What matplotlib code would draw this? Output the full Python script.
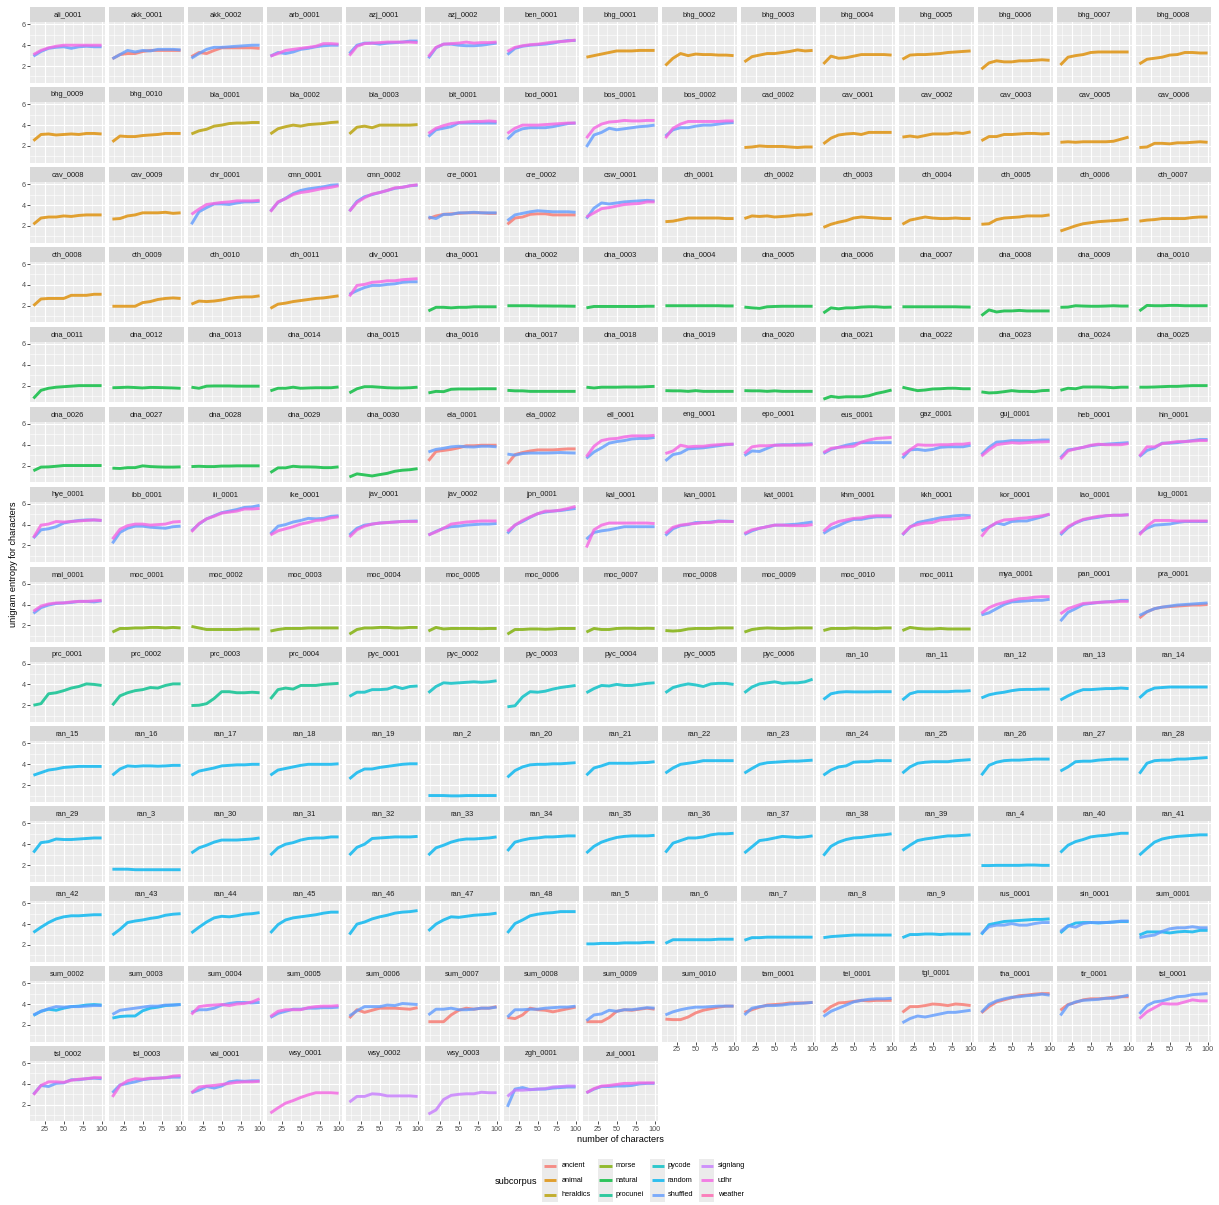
import numpy as np
import matplotlib.pyplot as plt
from matplotlib.patches import Rectangle

# number of characters sampled along each curve
n_chars = [10, 20, 30, 40, 50, 60, 70, 80, 90, 100]

levels = ["ancient", "animal", "heraldics", "morse", "natural", "procunei",
          "pycode", "random", "shuffled", "signlang", "udhr", "weather"]
level_colors = ["#F8766D", "#DE8C00", "#B79F00", "#7CAE00", "#00BA38", "#00C08B",
                "#00BFC4", "#00B4F0", "#619CFF", "#C77CFF", "#F564E3", "#FF64B0"]

panels = [
    "ali_0001", "akk_0001", "akk_0002", "arb_0001", "azj_0001", "azj_0002", "ben_0001", "bhg_0001",
    "bhg_0002", "bhg_0003", "bhg_0004", "bhg_0005", "bhg_0006", "bhg_0007", "bhg_0008",
    "bhg_0009", "bhg_0010", "bla_0001", "bla_0002", "bla_0003", "blt_0001", "bod_0001", "bos_0001",
    "bos_0002", "cad_0002", "cav_0001", "cav_0002", "cav_0003", "cav_0005", "cav_0006",
    "cav_0008", "cav_0009", "chr_0001", "cmn_0001", "cmn_0002", "cre_0001", "cre_0002", "csw_0001",
    "cth_0001", "cth_0002", "cth_0003", "cth_0004", "cth_0005", "cth_0006", "cth_0007",
    "cth_0008", "cth_0009", "cth_0010", "cth_0011", "div_0001", "dna_0001", "dna_0002", "dna_0003",
    "dna_0004", "dna_0005", "dna_0006", "dna_0007", "dna_0008", "dna_0009", "dna_0010",
    "dna_0011", "dna_0012", "dna_0013", "dna_0014", "dna_0015", "dna_0016", "dna_0017", "dna_0018",
    "dna_0019", "dna_0020", "dna_0021", "dna_0022", "dna_0023", "dna_0024", "dna_0025",
    "dna_0026", "dna_0027", "dna_0028", "dna_0029", "dna_0030", "ela_0001", "ela_0002", "ell_0001",
    "eng_0001", "epo_0001", "eus_0001", "gaz_0001", "guj_0001", "heb_0001", "hin_0001",
    "hye_0001", "ibb_0001", "iii_0001", "ike_0001", "jav_0001", "jav_0002", "jpn_0001", "kal_0001",
    "kan_0001", "kat_0001", "khm_0001", "kkh_0001", "kor_0001", "lao_0001", "lug_0001",
    "mal_0001", "moc_0001", "moc_0002", "moc_0003", "moc_0004", "moc_0005", "moc_0006", "moc_0007",
    "moc_0008", "moc_0009", "moc_0010", "moc_0011", "mya_0001", "pan_0001", "pra_0001",
    "prc_0001", "prc_0002", "prc_0003", "prc_0004", "pyc_0001", "pyc_0002", "pyc_0003", "pyc_0004",
    "pyc_0005", "pyc_0006", "ran_10", "ran_11", "ran_12", "ran_13", "ran_14",
    "ran_15", "ran_16", "ran_17", "ran_18", "ran_19", "ran_2", "ran_20", "ran_21",
    "ran_22", "ran_23", "ran_24", "ran_25", "ran_26", "ran_27", "ran_28",
    "ran_29", "ran_3", "ran_30", "ran_31", "ran_32", "ran_33", "ran_34", "ran_35",
    "ran_36", "ran_37", "ran_38", "ran_39", "ran_4", "ran_40", "ran_41",
    "ran_42", "ran_43", "ran_44", "ran_45", "ran_46", "ran_47", "ran_48", "ran_5",
    "ran_6", "ran_7", "ran_8", "ran_9", "rus_0001", "sin_0001", "sum_0001",
    "sum_0002", "sum_0003", "sum_0004", "sum_0005", "sum_0006", "sum_0007", "sum_0008", "sum_0009",
    "sum_0010", "tam_0001", "tel_0001", "tgl_0001", "tha_0001", "tir_0001", "tsl_0001",
    "tsl_0002", "tsl_0003", "vai_0001", "wsy_0001", "wsy_0002", "wsy_0003", "zgh_0001", "zul_0001",
]

subcorpus = (
    ["udhr", "ancient", "ancient", "udhr", "udhr", "udhr", "udhr"] + ["animal"] * 10
    + ["heraldics"] * 3 + ["udhr"] * 4 + ["animal"] * 8
    + ["udhr"] * 3 + ["ancient"] * 2 + ["udhr"] + ["animal"] * 11
    + ["udhr"] + ["natural"] * 30
    + ["ancient"] * 2 + ["udhr"] * 8
    + ["udhr"] * 15
    + ["udhr"] + ["morse"] * 11 + ["udhr", "udhr", "ancient"]
    + ["procunei"] * 4 + ["pycode"] * 6 + ["random"] * 52
    + ["udhr", "udhr"] + ["ancient"] * 10 + ["udhr"] * 5
    + ["signlang"] * 3 + ["udhr"] + ["weather"] * 3 + ["udhr", "udhr"]
)

# unigram entropy of the panel's own subcorpus curve
entropy = [
    # row 1
    [3.1, 3.5, 3.75, 3.9, 4.0, 4.0, 4.0, 4.0, 4.0, 4.0],
    [2.7, 3.1, 3.2, 3.2, 3.4, 3.5, 3.5, 3.5, 3.5, 3.5],
    [2.9, 3.3, 3.2, 3.5, 3.75, 3.75, 3.75, 3.75, 3.75, 3.7],
    [2.95, 3.2, 3.5, 3.6, 3.7, 3.8, 3.9, 4.15, 4.15, 4.1],
    [3.0, 3.9, 4.15, 4.2, 4.25, 4.3, 4.3, 4.3, 4.3, 4.25],
    [2.9, 3.8, 4.1, 4.15, 4.2, 4.3, 4.2, 4.25, 4.25, 4.3],
    [3.4, 3.8, 3.95, 4.05, 4.1, 4.2, 4.3, 4.35, 4.4, 4.5],
    [2.85, 3.0, 3.15, 3.3, 3.45, 3.45, 3.45, 3.5, 3.5, 3.5],
    [2.05, 2.75, 3.2, 3.0, 3.15, 3.1, 3.1, 3.05, 3.05, 3.0],
    [2.4, 2.9, 3.05, 3.2, 3.2, 3.3, 3.4, 3.55, 3.45, 3.5],
    [2.2, 2.95, 2.75, 2.8, 2.95, 3.1, 3.1, 3.1, 3.1, 3.05],
    [2.65, 3.05, 3.1, 3.1, 3.15, 3.2, 3.3, 3.35, 3.4, 3.45],
    [1.7, 2.3, 2.5, 2.4, 2.4, 2.5, 2.5, 2.55, 2.6, 2.55],
    [2.1, 2.85, 3.0, 3.1, 3.3, 3.35, 3.35, 3.35, 3.35, 3.35],
    [2.2, 2.65, 2.75, 2.85, 3.05, 3.1, 3.3, 3.3, 3.25, 3.25],
    # row 2
    [2.5, 3.1, 3.15, 3.05, 3.1, 3.15, 3.1, 3.2, 3.2, 3.15],
    [2.4, 2.95, 2.9, 2.9, 3.0, 3.05, 3.1, 3.2, 3.2, 3.2],
    [3.15, 3.45, 3.6, 3.9, 4.0, 4.15, 4.2, 4.2, 4.25, 4.25],
    [3.15, 3.65, 3.85, 4.0, 3.9, 4.05, 4.1, 4.15, 4.25, 4.3],
    [3.15, 3.8, 3.9, 3.75, 4.0, 4.0, 4.0, 4.0, 4.0, 4.05],
    [3.2, 3.7, 3.95, 4.15, 4.25, 4.3, 4.35, 4.35, 4.4, 4.35],
    [3.2, 3.7, 4.0, 4.0, 4.0, 4.05, 4.1, 4.15, 4.2, 4.2],
    [2.75, 3.7, 4.1, 4.3, 4.35, 4.45, 4.4, 4.4, 4.45, 4.45],
    [2.75, 3.7, 4.1, 4.35, 4.35, 4.35, 4.35, 4.35, 4.4, 4.4],
    [1.85, 1.9, 2.0, 1.95, 1.95, 1.95, 1.9, 1.85, 1.9, 1.9],
    [2.2, 2.75, 3.05, 3.15, 3.2, 3.1, 3.3, 3.3, 3.3, 3.3],
    [2.85, 2.95, 2.85, 3.0, 3.15, 3.15, 3.15, 3.25, 3.2, 3.35],
    [2.5, 2.9, 2.9, 3.1, 3.1, 3.15, 3.2, 3.2, 3.15, 3.2],
    [2.35, 2.4, 2.35, 2.4, 2.4, 2.4, 2.4, 2.45, 2.65, 2.85],
    [1.85, 1.9, 2.25, 2.25, 2.2, 2.3, 2.3, 2.35, 2.4, 2.35],
    # row 3
    [2.15, 2.75, 2.85, 2.85, 2.95, 2.9, 3.0, 3.05, 3.05, 3.05],
    [2.65, 2.7, 2.95, 3.05, 3.25, 3.25, 3.25, 3.3, 3.2, 3.25],
    [3.1, 3.6, 4.05, 4.15, 4.25, 4.3, 4.4, 4.4, 4.4, 4.45],
    [3.35, 4.3, 4.6, 5.0, 5.2, 5.3, 5.45, 5.6, 5.7, 5.85],
    [3.4, 4.25, 4.7, 5.05, 5.2, 5.4, 5.65, 5.7, 5.85, 5.95],
    [2.7, 2.95, 3.1, 3.15, 3.2, 3.25, 3.25, 3.25, 3.2, 3.2],
    [2.15, 2.75, 2.85, 3.1, 3.15, 3.15, 3.05, 3.05, 3.05, 3.05],
    [2.85, 3.25, 3.65, 3.75, 3.9, 4.05, 4.1, 4.15, 4.3, 4.3],
    [2.4, 2.45, 2.6, 2.75, 2.75, 2.75, 2.75, 2.75, 2.7, 2.7],
    [2.7, 2.95, 2.9, 2.95, 2.85, 2.9, 2.95, 3.05, 3.05, 3.15],
    [1.85, 2.15, 2.35, 2.5, 2.75, 2.85, 2.8, 2.75, 2.7, 2.7],
    [2.15, 2.55, 2.7, 2.85, 2.75, 2.7, 2.7, 2.75, 2.7, 2.7],
    [2.15, 2.2, 2.6, 2.75, 2.8, 2.85, 2.95, 2.95, 2.95, 3.05],
    [1.5, 1.75, 2.0, 2.2, 2.3, 2.4, 2.45, 2.5, 2.55, 2.65],
    [2.45, 2.55, 2.6, 2.7, 2.7, 2.7, 2.7, 2.8, 2.85, 2.85],
    # row 4
    [2.0, 2.65, 2.7, 2.7, 2.7, 3.0, 3.0, 3.0, 3.1, 3.1],
    [1.95, 1.95, 1.95, 1.95, 2.3, 2.4, 2.6, 2.7, 2.75, 2.7],
    [2.15, 2.45, 2.4, 2.45, 2.55, 2.7, 2.8, 2.85, 2.85, 2.95],
    [1.75, 2.15, 2.25, 2.4, 2.5, 2.6, 2.7, 2.75, 2.85, 2.95],
    [2.9, 3.95, 4.05, 4.25, 4.3, 4.4, 4.4, 4.5, 4.55, 4.6],
    [1.5, 1.85, 1.85, 1.8, 1.85, 1.85, 1.9, 1.9, 1.9, 1.9],
    [2.0, 2.0, 2.0, 2.0, 1.98, 1.98, 1.97, 1.97, 1.96, 1.95],
    [1.8, 1.93, 1.93, 1.93, 1.93, 1.93, 1.93, 1.93, 1.95, 1.95],
    [2.0, 2.0, 2.0, 2.0, 2.0, 2.0, 2.0, 2.0, 1.98, 1.98],
    [1.87, 1.8, 1.75, 1.9, 1.93, 1.95, 1.95, 1.95, 1.95, 1.95],
    [1.3, 1.8, 1.7, 1.8, 1.8, 1.87, 1.9, 1.9, 1.85, 1.87],
    [1.9, 1.9, 1.9, 1.9, 1.9, 1.9, 1.9, 1.9, 1.88, 1.87],
    [1.05, 1.6, 1.4, 1.5, 1.5, 1.55, 1.5, 1.5, 1.5, 1.5],
    [1.85, 1.87, 2.0, 1.97, 1.95, 1.95, 1.97, 2.0, 1.97, 1.97],
    [1.5, 2.03, 2.0, 2.0, 2.03, 2.03, 2.0, 2.0, 2.0, 2.0],
    # row 5
    [0.77, 1.55, 1.75, 1.85, 1.9, 1.95, 2.0, 2.0, 2.0, 2.0],
    [1.8, 1.82, 1.85, 1.82, 1.78, 1.83, 1.82, 1.8, 1.78, 1.75],
    [1.85, 1.75, 1.95, 1.97, 1.97, 1.97, 1.95, 1.95, 1.95, 1.95],
    [1.5, 1.75, 1.75, 1.85, 1.75, 1.78, 1.8, 1.8, 1.8, 1.87],
    [1.3, 1.7, 1.9, 1.9, 1.85, 1.8, 1.78, 1.78, 1.8, 1.85],
    [1.3, 1.45, 1.42, 1.65, 1.68, 1.68, 1.68, 1.7, 1.7, 1.7],
    [1.55, 1.5, 1.5, 1.45, 1.45, 1.45, 1.45, 1.45, 1.45, 1.45],
    [1.85, 1.78, 1.85, 1.85, 1.85, 1.87, 1.87, 1.87, 1.9, 1.93],
    [1.52, 1.5, 1.5, 1.45, 1.52, 1.45, 1.45, 1.45, 1.45, 1.45],
    [1.52, 1.5, 1.5, 1.45, 1.5, 1.45, 1.45, 1.45, 1.45, 1.45],
    [0.7, 0.97, 0.87, 0.93, 0.93, 0.93, 1.03, 1.25, 1.4, 1.58],
    [1.85, 1.68, 1.52, 1.58, 1.68, 1.7, 1.75, 1.75, 1.7, 1.7],
    [1.4, 1.3, 1.33, 1.42, 1.52, 1.45, 1.45, 1.42, 1.52, 1.55],
    [1.55, 1.75, 1.7, 1.87, 1.87, 1.87, 1.85, 1.8, 1.85, 1.85],
    [1.85, 1.85, 1.87, 1.9, 1.93, 1.93, 1.97, 2.0, 2.0, 2.0],
    # row 6
    [1.5, 1.85, 1.87, 1.93, 2.0, 2.0, 2.0, 2.0, 2.0, 2.0],
    [1.75, 1.72, 1.8, 1.8, 1.97, 1.9, 1.87, 1.85, 1.85, 1.87],
    [1.9, 1.93, 1.9, 1.9, 1.95, 1.95, 1.97, 1.97, 1.97, 1.97],
    [1.32, 1.78, 1.78, 1.93, 1.87, 1.87, 1.85, 1.8, 1.8, 1.87],
    [0.9, 1.2, 1.1, 1.0, 1.13, 1.25, 1.45, 1.55, 1.6, 1.7],
    [2.45, 3.35, 3.45, 3.55, 3.7, 3.9, 3.9, 3.95, 3.95, 3.95],
    [2.15, 3.05, 3.25, 3.4, 3.5, 3.5, 3.5, 3.55, 3.6, 3.6],
    [2.85, 3.85, 4.4, 4.55, 4.6, 4.75, 4.85, 4.85, 4.85, 4.9],
    [3.15, 3.4, 3.95, 3.8, 3.85, 3.85, 3.95, 4.0, 4.05, 4.05],
    [3.15, 3.8, 3.9, 3.9, 3.95, 3.95, 3.95, 3.95, 3.97, 4.0],
    [3.25, 3.65, 3.75, 3.8, 3.85, 4.25, 4.45, 4.6, 4.65, 4.7],
    [3.0, 3.5, 4.0, 3.95, 3.95, 4.0, 4.0, 4.05, 4.05, 4.15],
    [2.9, 3.5, 4.0, 4.1, 4.2, 4.15, 4.2, 4.25, 4.27, 4.3],
    [2.6, 3.4, 3.6, 3.75, 3.95, 4.05, 4.0, 4.0, 4.0, 4.1],
    [2.9, 3.8, 3.8, 4.1, 4.2, 4.3, 4.3, 4.35, 4.4, 4.4],
    # row 7
    [2.75, 3.95, 4.05, 4.3, 4.25, 4.3, 4.35, 4.4, 4.45, 4.4],
    [2.6, 3.55, 3.9, 4.05, 4.05, 3.95, 4.0, 4.05, 4.25, 4.3],
    [3.3, 4.1, 4.55, 4.8, 5.1, 5.2, 5.3, 5.5, 5.5, 5.55],
    [3.0, 3.4, 3.6, 3.8, 4.05, 4.2, 4.4, 4.45, 4.65, 4.75],
    [2.8, 3.5, 3.85, 4.05, 4.15, 4.2, 4.25, 4.3, 4.3, 4.3],
    [3.0, 3.3, 3.65, 4.05, 4.15, 4.25, 4.3, 4.35, 4.35, 4.35],
    [3.35, 3.95, 4.4, 4.75, 5.05, 5.3, 5.3, 5.4, 5.55, 5.75],
    [1.8, 3.5, 3.95, 4.15, 4.15, 4.15, 4.15, 4.15, 4.15, 4.1],
    [3.15, 3.75, 3.95, 4.05, 4.1, 4.2, 4.2, 4.3, 4.3, 4.3],
    [3.15, 3.5, 3.65, 3.8, 3.95, 3.95, 3.9, 3.9, 3.9, 4.0],
    [3.35, 4.0, 4.3, 4.45, 4.6, 4.65, 4.8, 4.85, 4.85, 4.85],
    [3.05, 3.8, 4.0, 4.15, 4.2, 4.45, 4.5, 4.55, 4.6, 4.7],
    [2.85, 3.75, 4.2, 4.45, 4.5, 4.6, 4.65, 4.75, 4.85, 5.0],
    [3.15, 3.8, 4.2, 4.5, 4.65, 4.8, 4.85, 4.9, 4.9, 4.95],
    [3.0, 3.85, 4.4, 4.4, 4.4, 4.35, 4.35, 4.35, 4.35, 4.35],
    # row 8
    [3.35, 3.85, 4.05, 4.15, 4.15, 4.25, 4.3, 4.3, 4.35, 4.4],
    [1.35, 1.7, 1.7, 1.75, 1.75, 1.8, 1.8, 1.75, 1.8, 1.75],
    [1.9, 1.75, 1.6, 1.6, 1.6, 1.6, 1.6, 1.65, 1.65, 1.65],
    [1.45, 1.6, 1.7, 1.7, 1.7, 1.75, 1.75, 1.75, 1.75, 1.75],
    [1.15, 1.6, 1.75, 1.75, 1.8, 1.8, 1.75, 1.75, 1.8, 1.8],
    [1.45, 1.8, 1.65, 1.7, 1.7, 1.7, 1.7, 1.68, 1.7, 1.7],
    [1.15, 1.6, 1.6, 1.65, 1.65, 1.62, 1.65, 1.7, 1.7, 1.7],
    [1.35, 1.7, 1.6, 1.6, 1.7, 1.72, 1.72, 1.7, 1.72, 1.7],
    [1.5, 1.45, 1.5, 1.65, 1.7, 1.7, 1.7, 1.75, 1.75, 1.75],
    [1.35, 1.6, 1.7, 1.75, 1.72, 1.7, 1.72, 1.75, 1.75, 1.75],
    [1.5, 1.7, 1.7, 1.7, 1.75, 1.72, 1.72, 1.7, 1.75, 1.75],
    [1.5, 1.8, 1.7, 1.65, 1.65, 1.7, 1.65, 1.65, 1.65, 1.65],
    [3.15, 3.7, 4.0, 4.2, 4.4, 4.55, 4.6, 4.7, 4.75, 4.75],
    [3.1, 3.6, 3.85, 4.1, 4.15, 4.2, 4.25, 4.25, 4.3, 4.3],
    [2.7, 3.3, 3.6, 3.75, 3.8, 3.85, 3.9, 3.95, 3.95, 4.0],
    # row 9
    [2.0, 2.15, 3.1, 3.2, 3.4, 3.65, 3.8, 4.05, 4.0, 3.9],
    [2.0, 2.9, 3.2, 3.4, 3.5, 3.7, 3.65, 3.9, 4.05, 4.05],
    [1.97, 2.0, 2.15, 2.65, 3.3, 3.3, 3.2, 3.2, 3.25, 3.2],
    [2.6, 3.5, 3.65, 3.55, 3.9, 3.9, 3.9, 4.0, 4.05, 4.1],
    [2.85, 3.25, 3.25, 3.5, 3.5, 3.55, 3.8, 3.6, 3.8, 3.85],
    [3.2, 3.8, 4.15, 4.1, 4.15, 4.2, 4.25, 4.2, 4.25, 4.35],
    [1.85, 1.95, 2.8, 3.3, 3.25, 3.35, 3.55, 3.7, 3.8, 3.9],
    [3.2, 3.6, 3.9, 3.85, 4.0, 3.9, 3.9, 4.0, 4.1, 4.15],
    [3.2, 3.7, 3.9, 4.05, 3.95, 3.8, 4.05, 4.1, 4.1, 4.0],
    [3.2, 3.75, 4.05, 4.15, 4.25, 4.1, 4.15, 4.15, 4.25, 4.5],
    [2.55, 3.1, 3.25, 3.3, 3.28, 3.28, 3.28, 3.3, 3.3, 3.3],
    [2.5, 3.1, 3.3, 3.3, 3.3, 3.3, 3.3, 3.35, 3.35, 3.4],
    [2.7, 3.0, 3.15, 3.25, 3.4, 3.5, 3.52, 3.52, 3.55, 3.55],
    [2.5, 2.9, 3.25, 3.5, 3.5, 3.55, 3.6, 3.6, 3.65, 3.6],
    [2.7, 3.35, 3.65, 3.7, 3.75, 3.75, 3.75, 3.75, 3.75, 3.75],
    # row 10
    [2.95, 3.2, 3.45, 3.55, 3.7, 3.75, 3.8, 3.8, 3.8, 3.8],
    [2.95, 3.55, 3.85, 3.8, 3.85, 3.85, 3.82, 3.85, 3.9, 3.9],
    [2.95, 3.35, 3.5, 3.65, 3.85, 3.9, 3.95, 3.95, 4.0, 4.0],
    [2.95, 3.45, 3.6, 3.75, 3.9, 4.0, 4.0, 4.0, 4.0, 4.05],
    [2.6, 3.2, 3.55, 3.55, 3.7, 3.8, 3.9, 4.0, 4.05, 4.05],
    [1.0, 1.0, 1.0, 0.97, 0.97, 1.0, 1.0, 1.0, 1.0, 1.0],
    [2.75, 3.4, 3.75, 3.95, 4.0, 4.0, 4.05, 4.05, 4.1, 4.15],
    [2.95, 3.65, 3.85, 4.1, 4.1, 4.1, 4.1, 4.15, 4.17, 4.25],
    [3.15, 3.65, 4.0, 4.1, 4.2, 4.35, 4.35, 4.35, 4.35, 4.35],
    [3.15, 3.6, 4.0, 4.15, 4.2, 4.25, 4.3, 4.3, 4.35, 4.4],
    [2.95, 3.45, 3.75, 3.85, 4.2, 4.25, 4.25, 4.35, 4.35, 4.35],
    [3.15, 3.75, 4.1, 4.2, 4.25, 4.25, 4.25, 4.35, 4.4, 4.45],
    [2.95, 3.9, 4.2, 4.35, 4.4, 4.4, 4.45, 4.5, 4.5, 4.5],
    [3.35, 3.75, 4.25, 4.3, 4.3, 4.4, 4.45, 4.5, 4.5, 4.5],
    [3.1, 4.1, 4.35, 4.4, 4.4, 4.5, 4.5, 4.55, 4.6, 4.65],
    # row 11
    [3.2, 4.15, 4.25, 4.5, 4.45, 4.45, 4.5, 4.55, 4.6, 4.6],
    [1.6, 1.6, 1.6, 1.55, 1.55, 1.55, 1.55, 1.55, 1.55, 1.55],
    [3.15, 3.65, 3.9, 4.2, 4.4, 4.4, 4.4, 4.45, 4.5, 4.6],
    [2.95, 3.65, 4.0, 4.15, 4.4, 4.55, 4.6, 4.6, 4.7, 4.7],
    [2.95, 3.7, 4.0, 4.55, 4.6, 4.65, 4.7, 4.7, 4.7, 4.75],
    [2.95, 3.65, 3.9, 4.2, 4.4, 4.5, 4.5, 4.55, 4.6, 4.7],
    [3.35, 4.2, 4.4, 4.55, 4.6, 4.7, 4.7, 4.75, 4.8, 4.8],
    [3.15, 3.8, 4.2, 4.45, 4.65, 4.75, 4.8, 4.8, 4.8, 4.85],
    [3.2, 4.1, 4.35, 4.6, 4.6, 4.7, 4.9, 5.0, 5.0, 5.05],
    [3.15, 3.75, 4.35, 4.45, 4.6, 4.75, 4.7, 4.65, 4.7, 4.8],
    [2.9, 3.8, 4.2, 4.45, 4.6, 4.65, 4.75, 4.85, 4.9, 5.0],
    [3.4, 3.9, 4.35, 4.5, 4.6, 4.7, 4.8, 4.8, 4.85, 4.9],
    [1.95, 1.95, 1.97, 1.97, 1.97, 1.97, 2.0, 2.0, 1.97, 1.97],
    [3.2, 3.9, 4.25, 4.45, 4.7, 4.8, 4.85, 4.95, 5.05, 5.05],
    [2.95, 3.6, 4.2, 4.5, 4.65, 4.75, 4.8, 4.85, 4.9, 4.9],
    # row 12
    [3.2, 3.7, 4.15, 4.5, 4.7, 4.8, 4.8, 4.85, 4.9, 4.9],
    [2.95, 3.5, 4.15, 4.3, 4.4, 4.55, 4.65, 4.85, 4.95, 5.0],
    [3.15, 3.7, 4.2, 4.6, 4.75, 4.7, 4.8, 4.95, 5.0, 5.1],
    [3.15, 3.95, 4.4, 4.6, 4.7, 4.8, 4.9, 5.05, 5.15, 5.15],
    [3.0, 4.0, 4.2, 4.5, 4.7, 4.85, 5.05, 5.15, 5.2, 5.3],
    [3.35, 4.0, 4.4, 4.7, 4.65, 4.75, 4.85, 4.9, 4.95, 5.05],
    [3.15, 4.05, 4.4, 4.8, 4.95, 5.05, 5.1, 5.2, 5.2, 5.2],
    [2.1, 2.1, 2.15, 2.15, 2.15, 2.2, 2.2, 2.2, 2.25, 2.25],
    [2.15, 2.5, 2.5, 2.5, 2.5, 2.5, 2.5, 2.55, 2.55, 2.55],
    [2.45, 2.7, 2.7, 2.75, 2.75, 2.75, 2.75, 2.75, 2.75, 2.75],
    [2.7, 2.8, 2.85, 2.9, 2.95, 2.95, 2.95, 2.95, 2.95, 2.95],
    [2.7, 3.0, 3.0, 3.05, 3.05, 3.0, 3.05, 3.05, 3.05, 3.05],
    [3.0, 3.95, 4.1, 4.25, 4.3, 4.35, 4.4, 4.45, 4.45, 4.5],
    [3.15, 3.8, 4.1, 4.15, 4.15, 4.1, 4.15, 4.2, 4.25, 4.25],
    [2.95, 3.25, 3.25, 3.25, 3.15, 3.25, 3.3, 3.25, 3.4, 3.4],
    # row 13
    [2.9, 3.3, 3.5, 3.4, 3.6, 3.75, 3.8, 3.9, 3.95, 3.9],
    [2.65, 2.8, 2.85, 2.85, 3.35, 3.6, 3.7, 3.85, 3.9, 3.95],
    [3.0, 3.75, 3.85, 3.9, 3.95, 3.85, 4.0, 4.05, 4.2, 4.5],
    [2.8, 3.3, 3.45, 3.45, 3.45, 3.65, 3.75, 3.8, 3.8, 3.85],
    [2.65, 3.45, 3.2, 3.4, 3.6, 3.6, 3.6, 3.55, 3.5, 3.65],
    [2.3, 2.3, 2.3, 2.95, 3.4, 3.6, 3.5, 3.6, 3.6, 3.75],
    [2.7, 2.6, 2.95, 3.6, 3.45, 3.4, 3.25, 3.4, 3.55, 3.7],
    [2.3, 2.3, 2.3, 2.7, 3.3, 3.45, 3.4, 3.5, 3.6, 3.5],
    [2.55, 2.5, 2.5, 2.75, 3.15, 3.4, 3.55, 3.7, 3.8, 3.8],
    [3.2, 3.45, 3.7, 3.9, 3.95, 4.0, 4.1, 4.1, 4.1, 4.15],
    [3.2, 3.75, 4.1, 4.15, 4.25, 4.35, 4.3, 4.35, 4.35, 4.35],
    [3.2, 3.75, 3.75, 3.85, 4.0, 3.95, 3.85, 4.0, 3.95, 3.85],
    [3.15, 3.75, 4.2, 4.4, 4.6, 4.8, 4.85, 4.95, 5.0, 5.0],
    [3.4, 3.95, 4.15, 4.4, 4.5, 4.5, 4.55, 4.65, 4.7, 4.7],
    [2.6, 3.25, 3.65, 4.05, 4.0, 4.0, 4.2, 4.4, 4.3, 4.3],
    # row 14
    [2.95, 3.85, 4.2, 4.2, 4.15, 4.35, 4.45, 4.5, 4.6, 4.6],
    [2.75, 3.85, 4.3, 4.5, 4.45, 4.55, 4.55, 4.6, 4.75, 4.8],
    [3.15, 3.7, 3.8, 3.85, 3.95, 4.05, 4.15, 4.2, 4.2, 4.25],
    [1.2, 1.7, 2.15, 2.4, 2.7, 2.95, 3.15, 3.15, 3.15, 3.1],
    [2.25, 2.8, 2.8, 3.05, 3.0, 2.85, 2.85, 2.85, 2.85, 2.8],
    [1.1, 1.5, 2.5, 2.9, 3.0, 3.05, 3.05, 3.2, 3.15, 3.15],
    [2.8, 3.4, 3.4, 3.45, 3.5, 3.55, 3.7, 3.75, 3.8, 3.8],
    [3.15, 3.55, 3.8, 3.85, 3.95, 4.05, 4.05, 4.1, 4.1, 4.1],
]

# shuffled baseline, only for natural-language / ancient / sign-language panels
shuffled = {
    "ali_0001": [2.95, 3.4, 3.7, 3.8, 3.85, 3.7, 3.85, 3.9, 3.85, 3.85],
    "akk_0001": [2.7, 3.1, 3.5, 3.35, 3.5, 3.45, 3.6, 3.6, 3.6, 3.55],
    "akk_0002": [2.75, 3.2, 3.6, 3.8, 3.8, 3.85, 3.9, 3.95, 4.0, 4.0],
    "arb_0001": [2.95, 3.3, 3.2, 3.35, 3.6, 3.7, 3.85, 3.95, 4.0, 4.0],
    "azj_0001": [3.2, 4.0, 4.2, 4.2, 4.1, 4.2, 4.25, 4.3, 4.4, 4.4],
    "azj_0002": [2.75, 3.75, 4.1, 4.1, 4.0, 3.95, 3.95, 4.0, 4.1, 4.2],
    "ben_0001": [3.1, 3.7, 3.9, 4.0, 4.05, 4.1, 4.2, 4.35, 4.45, 4.45],
    "blt_0001": [2.9, 3.55, 3.7, 3.85, 4.2, 4.2, 4.2, 4.2, 4.2, 4.2],
    "bod_0001": [2.65, 3.35, 3.65, 3.75, 3.75, 3.75, 3.85, 4.0, 4.15, 4.2],
    "bos_0001": [1.9, 3.05, 3.3, 3.7, 3.55, 3.65, 3.75, 3.85, 3.9, 4.0],
    "bos_0002": [2.95, 3.55, 3.75, 3.75, 3.9, 4.0, 4.0, 4.1, 4.2, 4.25],
    "chr_0001": [2.15, 3.35, 3.75, 4.1, 4.1, 4.05, 4.2, 4.3, 4.3, 4.35],
    "cmn_0001": [3.4, 4.25, 4.65, 5.1, 5.4, 5.55, 5.65, 5.75, 5.9, 5.95],
    "cmn_0002": [3.4, 4.35, 4.8, 5.0, 5.2, 5.4, 5.6, 5.7, 5.85, 5.9],
    "cre_0001": [2.85, 2.7, 3.1, 3.1, 3.25, 3.25, 3.3, 3.25, 3.25, 3.25],
    "cre_0002": [2.5, 3.05, 3.2, 3.35, 3.45, 3.4, 3.35, 3.35, 3.35, 3.3],
    "csw_0001": [2.7, 3.7, 4.2, 4.1, 4.2, 4.3, 4.35, 4.4, 4.45, 4.4],
    "div_0001": [3.1, 3.45, 3.75, 3.95, 3.95, 4.05, 4.1, 4.25, 4.3, 4.3],
    "ela_0001": [3.3, 3.55, 3.65, 3.8, 3.85, 3.8, 3.78, 3.85, 3.85, 3.8],
    "ela_0002": [3.1, 3.0, 3.15, 3.2, 3.2, 3.2, 3.22, 3.25, 3.22, 3.2],
    "ell_0001": [2.7, 3.3, 3.7, 4.15, 4.3, 4.4, 4.55, 4.6, 4.6, 4.7],
    "eng_0001": [2.45, 3.05, 3.2, 3.6, 3.65, 3.7, 3.8, 3.9, 4.0, 4.05],
    "epo_0001": [2.95, 3.4, 3.35, 3.65, 3.95, 4.0, 4.0, 4.05, 4.05, 4.1],
    "eus_0001": [3.15, 3.55, 3.75, 3.95, 4.1, 4.2, 4.2, 4.2, 4.2, 4.2],
    "gaz_0001": [2.7, 3.5, 3.55, 3.45, 3.55, 3.75, 3.8, 3.8, 3.8, 3.95],
    "guj_0001": [3.05, 3.75, 4.25, 4.3, 4.4, 4.4, 4.4, 4.4, 4.45, 4.45],
    "heb_0001": [2.75, 3.5, 3.6, 3.75, 3.9, 4.0, 4.05, 4.1, 4.15, 4.2],
    "hin_0001": [2.85, 3.45, 3.7, 4.15, 4.15, 4.2, 4.3, 4.4, 4.5, 4.5],
    "hye_0001": [2.7, 3.5, 3.6, 3.8, 4.15, 4.3, 4.4, 4.45, 4.45, 4.4],
    "ibb_0001": [2.2, 3.25, 3.65, 3.85, 3.85, 3.75, 3.7, 3.65, 3.8, 3.85],
    "iii_0001": [3.4, 4.05, 4.55, 4.85, 5.15, 5.3, 5.45, 5.65, 5.7, 5.85],
    "ike_0001": [3.1, 3.85, 4.0, 4.25, 4.4, 4.6, 4.55, 4.6, 4.8, 4.85],
    "jav_0001": [3.0, 3.65, 3.95, 4.05, 4.15, 4.2, 4.25, 4.3, 4.33, 4.35],
    "jav_0002": [3.0, 3.35, 3.65, 3.8, 3.85, 3.95, 4.0, 4.05, 4.05, 4.1],
    "jpn_0001": [3.15, 3.95, 4.3, 4.7, 5.05, 5.2, 5.3, 5.35, 5.45, 5.55],
    "kal_0001": [2.6, 3.25, 3.4, 3.5, 3.65, 3.8, 3.8, 3.8, 3.8, 3.8],
    "kan_0001": [2.95, 3.6, 3.9, 4.0, 4.2, 4.2, 4.25, 4.35, 4.33, 4.3],
    "kat_0001": [3.05, 3.4, 3.65, 3.8, 3.95, 3.95, 4.0, 4.05, 4.15, 4.25],
    "khm_0001": [3.15, 3.6, 3.9, 4.25, 4.5, 4.5, 4.65, 4.75, 4.75, 4.75],
    "kkh_0001": [3.0, 3.75, 4.2, 4.35, 4.5, 4.65, 4.75, 4.85, 4.9, 4.85],
    "kor_0001": [3.4, 3.75, 4.15, 4.0, 4.3, 4.35, 4.35, 4.55, 4.75, 5.0],
    "lao_0001": [3.0, 3.7, 4.15, 4.45, 4.6, 4.7, 4.85, 4.9, 4.9, 4.95],
    "lug_0001": [3.15, 3.65, 3.95, 4.0, 4.05, 4.2, 4.3, 4.3, 4.3, 4.3],
    "mal_0001": [3.15, 3.7, 3.95, 4.1, 4.15, 4.2, 4.3, 4.3, 4.25, 4.35],
    "mya_0001": [3.0, 3.2, 3.6, 4.0, 4.25, 4.3, 4.35, 4.4, 4.4, 4.5],
    "pan_0001": [2.4, 3.25, 3.6, 4.0, 4.1, 4.2, 4.25, 4.3, 4.4, 4.4],
    "pra_0001": [2.95, 3.3, 3.6, 3.75, 3.85, 3.95, 4.0, 4.05, 4.1, 4.15],
    "rus_0001": [3.1, 3.75, 3.9, 3.9, 4.05, 3.9, 3.9, 4.05, 4.15, 4.15],
    "sin_0001": [3.3, 3.85, 3.7, 4.05, 4.15, 4.15, 4.15, 4.2, 4.3, 4.3],
    "sum_0001": [2.7, 2.85, 2.95, 3.3, 3.55, 3.65, 3.65, 3.75, 3.65, 3.65],
    "sum_0002": [2.95, 3.3, 3.55, 3.75, 3.7, 3.75, 3.75, 3.8, 3.85, 3.85],
    "sum_0003": [3.0, 3.4, 3.5, 3.6, 3.7, 3.8, 3.8, 3.9, 3.9, 3.95],
    "sum_0004": [3.2, 3.45, 3.45, 3.6, 3.9, 4.05, 4.15, 4.15, 4.1, 4.15],
    "sum_0005": [2.7, 3.1, 3.3, 3.5, 3.5, 3.6, 3.6, 3.65, 3.65, 3.7],
    "sum_0006": [2.85, 3.35, 3.75, 3.75, 3.75, 3.9, 3.85, 4.05, 4.0, 3.95],
    "sum_0007": [2.95, 3.5, 3.5, 3.6, 3.45, 3.45, 3.5, 3.6, 3.6, 3.7],
    "sum_0008": [2.75, 3.45, 3.45, 3.5, 3.5, 3.6, 3.65, 3.7, 3.7, 3.8],
    "sum_0009": [2.4, 2.95, 3.05, 3.4, 3.3, 3.45, 3.45, 3.55, 3.65, 3.6],
    "sum_0010": [2.95, 3.25, 3.45, 3.6, 3.7, 3.7, 3.75, 3.8, 3.8, 3.8],
    "tam_0001": [2.95, 3.6, 3.75, 3.85, 3.85, 3.9, 4.0, 4.05, 4.1, 4.15],
    "tel_0001": [2.8, 3.3, 3.6, 3.9, 4.2, 4.35, 4.45, 4.5, 4.5, 4.55],
    "tgl_0001": [2.2, 2.6, 2.85, 2.75, 2.9, 3.05, 3.2, 3.2, 3.3, 3.4],
    "tha_0001": [3.2, 3.95, 4.3, 4.5, 4.65, 4.7, 4.8, 4.85, 4.95, 4.85],
    "tir_0001": [2.9, 3.9, 4.2, 4.35, 4.4, 4.45, 4.55, 4.55, 4.7, 4.85],
    "tsl_0001": [3.05, 3.85, 4.2, 4.3, 4.5, 4.7, 4.75, 4.9, 4.95, 5.0],
    "tsl_0002": [3.0, 3.85, 3.75, 4.05, 4.1, 4.4, 4.4, 4.5, 4.55, 4.5],
    "tsl_0003": [3.15, 3.9, 4.05, 4.2, 4.4, 4.5, 4.55, 4.6, 4.65, 4.65],
    "vai_0001": [3.15, 3.4, 3.75, 3.6, 3.8, 4.2, 4.3, 4.25, 4.3, 4.3],
    "zgh_0001": [1.8, 3.5, 3.65, 3.45, 3.5, 3.5, 3.6, 3.65, 3.7, 3.7],
    "zul_0001": [3.15, 3.5, 3.75, 3.75, 3.8, 3.8, 3.85, 4.0, 4.05, 4.05],
}

W, H = 1219, 1205
fig = plt.figure(figsize=(W / 100, H / 100), dpi=100)
plt.rcParams['font.family'] = ['Liberation Sans', 'DejaVu Sans']

def px_axes(x, y, w, h):
    # x, y = top-left corner in pixels
    return fig.add_axes([x / W, 1 - (y + h) / H, w / W, h / H])

ncol = 15
left, pitch_x, pw = 30, 79, 75
top, pitch_y, strip_h, ph = 7.3, 79.9, 15, 60.4
color_of = dict(zip(levels, level_colors))
line_alpha = 0.8

for i, name in enumerate(panels):
    r, c = divmod(i, ncol)
    x = left + c * pitch_x
    y = top + r * pitch_y

    sax = px_axes(x, y, pw, strip_h)
    sax.set_facecolor("#D9D9D9")
    sax.set_xticks([]); sax.set_yticks([])
    for s in sax.spines.values():
        s.set_visible(False)
    sax.text(0.5, 0.48, name, ha="center", va="center", fontsize=5.4, color="#1A1A1A",
             transform=sax.transAxes)

    ax = px_axes(x, y + strip_h, pw, ph)
    ax.set_facecolor("#EBEBEB")
    for s in ax.spines.values():
        s.set_visible(False)
    ax.set_xlim(5.5, 104.5)
    ax.set_ylim(0.4, 6.2)
    ax.set_xticks([25, 50, 75, 100])
    ax.set_xticks([12.5, 37.5, 62.5, 87.5], minor=True)
    ax.set_yticks([2, 4, 6])
    ax.set_yticks([1, 3, 5], minor=True)
    ax.grid(which="major", color="white", linewidth=0.8)
    ax.grid(which="minor", color="white", linewidth=0.4)
    ax.set_axisbelow(True)
    ax.tick_params(which="minor", length=0)

    bottom = i + ncol >= len(panels)
    ax.tick_params(axis="x", which="major", length=2 if bottom else 0, width=0.6,
                   color="#333333", labelsize=5.2, labelcolor="#4D4D4D", pad=1,
                   labelbottom=bottom)
    ax.tick_params(axis="y", which="major", length=2 if c == 0 else 0, width=0.6,
                   color="#333333", labelsize=5.2, labelcolor="#4D4D4D", pad=1,
                   labelleft=(c == 0))

    series = [(subcorpus[i], entropy[i])]
    if name in shuffled:
        series.append(("shuffled", shuffled[name]))
    series.sort(key=lambda s: levels.index(s[0]))
    for corp, vals in series:
        ax.plot(n_chars, vals, color=color_of[corp], linewidth=2.1, alpha=line_alpha,
                solid_capstyle="butt", solid_joinstyle="round")

# overlay in pixel coordinates for titles and legend
ov = fig.add_axes([0, 0, 1, 1], facecolor="none")
ov.set_xlim(0, W)
ov.set_ylim(H, 0)
ov.axis("off")

ov.text(14, 564, "unigram entropy for characters", rotation=90, ha="center", va="center",
        fontsize=6.6, color="black")
ov.text(620.5, 1139, "number of characters", ha="center", va="center", fontsize=6.6,
        color="black")

ov.text(495, 1181, "subcorpus", ha="left", va="center", fontsize=6.6, color="black")
key_x = [542.3, 597.7, 650, 699]
label_x = [562, 616, 668, 718]
row_y = [1165.7, 1180.3, 1194.7]
key_w, key_h = 15.4, 14.4
for k, (lev, col) in enumerate(zip(levels, level_colors)):
    cc, rr = divmod(k, 3)
    kx, ky = key_x[cc], row_y[rr]
    ov.add_patch(Rectangle((kx, ky - key_h / 2), key_w, key_h, facecolor="#EBEBEB",
                           edgecolor="none"))
    ov.plot([kx + 1.5, kx + key_w - 1.5], [ky, ky], color=col, linewidth=2.1,
            alpha=line_alpha, solid_capstyle="butt")
    ov.text(label_x[cc], ky, lev, ha="left", va="center", fontsize=5.3, color="black")

fig.savefig("out.png", dpi=100)
